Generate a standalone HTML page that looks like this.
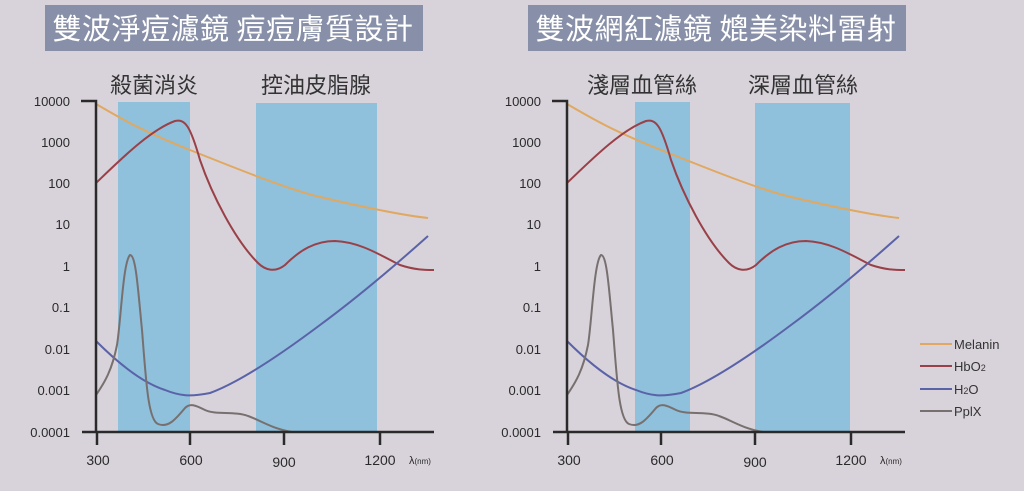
<!DOCTYPE html>
<html><head><meta charset="utf-8"><style>
html,body{margin:0;padding:0;background:#d8d3da;}
svg{display:block;font-family:"Liberation Sans","Noto Sans CJK TC",sans-serif;}
</style></head><body>
<svg width="1024" height="491" viewBox="0 0 1024 491" xmlns="http://www.w3.org/2000/svg">
<rect width="1024" height="491" fill="#d8d3da"/>
<rect x="45" y="5" width="378" height="46" fill="#8890a9"/>
<text x="233" y="39" font-size="29" fill="#fff" text-anchor="middle" letter-spacing="0.5" font-family="Noto Sans CJK TC,sans-serif">雙波淨痘濾鏡  痘痘膚質設計</text>
<rect x="528" y="5" width="378" height="46" fill="#8890a9"/>
<text x="716" y="39" font-size="29" fill="#fff" text-anchor="middle" letter-spacing="0.5" font-family="Noto Sans CJK TC,sans-serif">雙波網紅濾鏡  媲美染料雷射</text>

<defs>
<g id="curves" fill="none" stroke-width="2">
<path d="M96,104 C120,118 140,130 190,150 S290,190 320,197 S400,215 428,218" stroke="#e0a860"/>
<path d="M96,183 C120,160 150,130 175,121 C185,119 190,125 200,160 C212,195 235,240 258,263 C265,270 275,273 285,265 C300,250 315,241 335,241 C360,242 380,255 400,265 C415,270 425,270 434,270" stroke="#9a4048"/>
<path d="M96,341 C115,360 140,382 165,390 C180,396 190,397 210,393 C240,382 280,355 320,325 C350,303 390,270 428,236" stroke="#5a62a8"/>
<path d="M96,395 C105,382 112,370 117,345 C121,320 123,262 130,255 C136,255 138,290 142,330 C146,380 148,420 158,424 C168,428 175,420 185,408 C190,403 195,405 205,410 C215,415 235,411 248,416 C260,420 270,428 292,432" stroke="#77706f"/>
</g>
<g id="axes">
<g fill="#2a2a2a" font-size="13" text-anchor="end">
<text x="70" y="106">10000</text><text x="70" y="147">1000</text><text x="70" y="188">100</text><text x="70" y="229">10</text><text x="70" y="271">1</text><text x="70" y="312">0.1</text><text x="70" y="354">0.01</text><text x="70" y="395">0.001</text><text x="70" y="437">0.0001</text>
</g>
<g stroke="#2a2a2a" stroke-width="2.5" fill="none">
<path d="M81,101 H96 V432"/>
<path d="M82,432 H434"/>
<path d="M97,432 V445 M190,432 V445 M284,432 V445 M380,432 V445"/>
</g>
<g fill="#2a2a2a" font-size="14" text-anchor="middle">
<text x="98" y="465">300</text><text x="191" y="465">600</text><text x="284" y="467">900</text><text x="380" y="465">1200</text>
</g>
<text x="409" y="464" font-size="11" fill="#2a2a2a">λ<tspan font-size="8">(nm)</tspan></text>
</g>
</defs>

<rect x="118" y="102" width="72" height="330" fill="#8fc0dc"/>
<rect x="256" y="103" width="121" height="329" fill="#8fc0dc"/>
<text x="154" y="93" font-size="22" fill="#333" text-anchor="middle" font-family="Noto Sans CJK TC,sans-serif">殺菌消炎</text>
<text x="316" y="93" font-size="22" fill="#333" text-anchor="middle" font-family="Noto Sans CJK TC,sans-serif">控油皮脂腺</text>
<use href="#curves"/>
<use href="#axes"/>

<rect x="635" y="102" width="55" height="330" fill="#8fc0dc"/>
<rect x="755" y="103" width="95" height="329" fill="#8fc0dc"/>
<text x="642" y="93" font-size="22" fill="#333" text-anchor="middle" font-family="Noto Sans CJK TC,sans-serif">淺層血管絲</text>
<text x="803" y="93" font-size="22" fill="#333" text-anchor="middle" font-family="Noto Sans CJK TC,sans-serif">深層血管絲</text>
<g transform="translate(471,0)"><use href="#curves"/><use href="#axes"/></g>

<g stroke-width="2">
<line x1="920" y1="344" x2="952" y2="344" stroke="#e0a860"/>
<line x1="920" y1="366" x2="952" y2="366" stroke="#9a4048"/>
<line x1="920" y1="389" x2="952" y2="389" stroke="#5a62a8"/>
<line x1="920" y1="411" x2="952" y2="411" stroke="#77706f"/>
</g>
<g font-size="13" fill="#333">
<text x="954" y="349">Melanin</text>
<text x="954" y="371">HbO<tspan font-size="9">2</tspan></text>
<text x="954" y="394">H<tspan font-size="9">2</tspan>O</text>
<text x="954" y="416">PplX</text>
</g>
</svg>
</body></html>
